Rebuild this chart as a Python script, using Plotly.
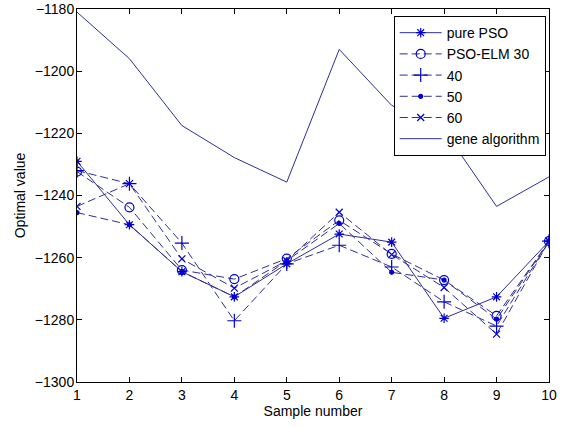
import plotly.graph_objects as go

samples = [1, 2, 3, 4, 5, 6, 7, 8, 9, 10]
pure_pso = [-1229, -1249.4, -1264.5, -1272.6, -1262, -1252.4, -1255, -1279.5, -1272.6, -1254.7]
elm30 = [-1232.3, -1243.8, -1264, -1266.9, -1260.3, -1248, -1258.8, -1267.2, -1278.7, -1254.7]
elm40 = [-1232, -1236.2, -1255.3, -1280.3, -1262, -1256, -1263, -1274.2, -1282, -1254.7]
elm50 = [-1245.5, -1249.4, -1264.5, -1272.6, -1261, -1249, -1264.7, -1267.2, -1279.8, -1254.7]
elm60 = [-1243.5, -1236.2, -1260.4, -1269.8, -1261, -1245.4, -1259, -1269.6, -1284.6, -1254.7]
gene = [-1181, -1196, -1217.5, -1227.8, -1235.7, -1193, -1211, -1219, -1243.5, -1234]

line_col = "#2e2e96"
mark_col = "#0000d0"
dash = "8px,4px"
FONT = "Liberation Sans, Arial"

series = [
    ("pure PSO", pure_pso, "solid", "asterisk-open", 8),
    ("PSO-ELM 30", elm30, dash, "circle-open", 9),
    ("40", elm40, dash, "cross-thin-open", 10),
    ("50", elm50, dash, "circle", 4),
    ("60", elm60, dash, "x-thin-open", 7),
]

fig = go.Figure()
for name, vals, d, sym, sz in series:
    fig.add_trace(go.Scatter(
        x=samples, y=vals, name=name, mode="lines+markers",
        line=dict(color=line_col, width=1, dash=d),
        marker=dict(symbol=sym, size=sz, color=mark_col,
                    line=dict(color=mark_col, width=1.2)),
    ))
fig.add_trace(go.Scatter(
    x=samples, y=gene, name="gene algorithm", mode="lines",
    line=dict(color=line_col, width=1),
))

axis_common = dict(
    showline=True, linecolor="black", linewidth=1, mirror="ticks",
    ticks="inside", ticklen=5, tickcolor="black", showgrid=False,
    zeroline=False, automargin=False,
    tickfont=dict(family=FONT, size=14, color="black"),
)

fig.update_layout(
    width=564, height=427,
    margin=dict(l=77, r=15, t=9, b=45),
    paper_bgcolor="white", plot_bgcolor="white",
    font=dict(family=FONT, size=14, color="black"),
    xaxis=dict(range=[1, 10], tickmode="array", tickvals=samples,
               title=dict(text="Sample number", standoff=3,
                          font=dict(family=FONT, size=14)), **axis_common),
    yaxis=dict(range=[-1300, -1180], tickmode="linear", tick0=-1300, dtick=20,
               ticklabelstandoff=-1,
               title=dict(text="Optimal value", standoff=5,
                          font=dict(family=FONT, size=14)), **axis_common),
    legend=dict(x=0.993, y=0.981, xanchor="right", yanchor="top",
                bordercolor="black", borderwidth=1, bgcolor="white",
                font=dict(family=FONT, size=14), itemwidth=42, tracegroupgap=0),
    showlegend=True,
)

fig.write_html("out.html",
               config={"displayModeBar": False},
               post_script="document.body.style.margin='0';document.body.style.overflow='hidden';")
